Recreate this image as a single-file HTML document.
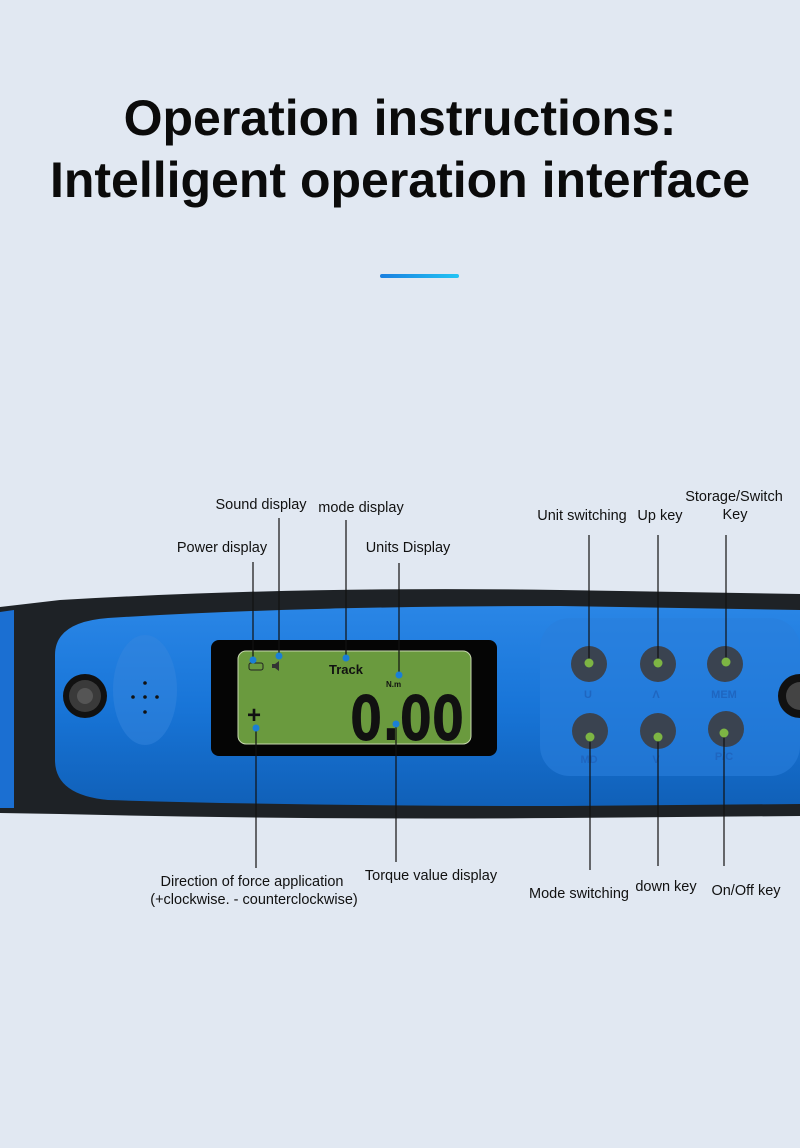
<!DOCTYPE html>
<html><head><meta charset="utf-8"><style>
html,body{margin:0;padding:0;background:#e1e8f2;}
body{width:800px;height:1148px;overflow:hidden;position:relative;font-family:"Liberation Sans",Arial,sans-serif;}
h1{position:absolute;left:0;width:800px;top:87px;margin:0;text-align:center;font-size:50px;line-height:62px;font-weight:bold;color:#0b0b0b;}
</style></head><body>
<h1>Operation instructions:<br>Intelligent operation interface</h1>
<svg width="800" height="1148" style="position:absolute;left:0;top:0">
<defs>
<linearGradient id="bar" x1="0" x2="1"><stop offset="0" stop-color="#1a7fe0"/><stop offset="1" stop-color="#22c4f4"/></linearGradient>
<linearGradient id="bl" x1="0" y1="0" x2="0" y2="1"><stop offset="0" stop-color="#2a86e6"/><stop offset="0.5" stop-color="#1875d8"/><stop offset="1" stop-color="#1060b8"/></linearGradient>
</defs>
<rect x="380" y="274" width="79" height="4" rx="2" fill="url(#bar)"/>
<!-- body -->
<path d="M0 607 L60 600 Q300 586 560 590 L800 594 L800 816 L560 818 Q300 820 60 814 L0 813 Z" fill="#1e2226"/>
<path d="M0 612 L14 610 L14 808 L0 808 Z" fill="#1b6fd2"/>
<path d="M108 618 Q300 606 560 606 L800 610 L800 804 L560 806 Q300 806 108 800 Q55 795 55 760 L55 655 Q55 622 108 618 Z" fill="url(#bl)"/>
<rect x="540" y="618" width="260" height="158" rx="30" fill="#2a7fdc" opacity="0.6"/>
<ellipse cx="145" cy="690" rx="32" ry="55" fill="#3585de" opacity="0.5"/>
<circle cx="85" cy="696" r="22" fill="#111"/><circle cx="85" cy="696" r="16" fill="#3a3a3a"/><circle cx="85" cy="696" r="8" fill="#555"/>
<circle cx="800" cy="696" r="22" fill="#111"/><circle cx="800" cy="696" r="14" fill="#444"/>
<g fill="#111"><circle cx="145" cy="683" r="1.8"/><circle cx="133" cy="697" r="1.8"/><circle cx="145" cy="697" r="1.8"/><circle cx="157" cy="697" r="1.8"/><circle cx="145" cy="712" r="1.8"/></g>
<!-- display -->
<rect x="211" y="640" width="286" height="116" rx="8" fill="#050505"/>
<rect x="238" y="651" width="233" height="93" rx="8" fill="#6a9a3e" stroke="#c8d8b0" stroke-width="1"/>
<text x="329" y="674" font-family="Liberation Sans,sans-serif" font-weight="bold" font-size="13" fill="#111">Track</text>
<text x="386" y="687" font-family="Liberation Sans,sans-serif" font-weight="bold" font-size="8" fill="#111">N.m</text>
<text x="247" y="723" font-family="Liberation Sans,sans-serif" font-weight="bold" font-size="24" fill="#111">+</text>
<text x="350" y="740" font-family="DejaVu Sans,sans-serif" font-weight="bold" font-size="62" fill="#111" textLength="114" lengthAdjust="spacingAndGlyphs">0.00</text>
<rect x="249" y="663" width="14" height="7" rx="2" fill="none" stroke="#222" stroke-width="1"/>
<path d="M272 664 h3 l4 -3 v10 l-4 -3 h-3z" fill="#333"/>
<!-- buttons -->
<g fill="#3a4350">
<circle cx="589" cy="664" r="18"/><circle cx="658" cy="664" r="18"/><circle cx="725" cy="664" r="18"/>
<circle cx="590" cy="731" r="18"/><circle cx="658" cy="731" r="18"/><circle cx="726" cy="729" r="18"/>
</g>
<g font-family="Liberation Sans,sans-serif" font-weight="bold" font-size="11" fill="#1f66c0" text-anchor="middle">
<text x="588" y="698">U</text><text x="656" y="698">Λ</text><text x="724" y="698">MEM</text>
<text x="589" y="763">MD</text><text x="656" y="763">V</text><text x="724" y="760">P/C</text>
</g>
<!-- leader lines -->
<g stroke="#111" stroke-width="1.2">
<line x1="253" y1="562" x2="253" y2="660"/><line x1="279" y1="518" x2="279" y2="656"/>
<line x1="346" y1="520" x2="346" y2="658"/><line x1="399" y1="563" x2="399" y2="675"/>
<line x1="589" y1="535" x2="589" y2="663"/><line x1="658" y1="535" x2="658" y2="663"/><line x1="726" y1="535" x2="726" y2="662"/>
<line x1="256" y1="728" x2="256" y2="868"/><line x1="396" y1="724" x2="396" y2="862"/>
<line x1="590" y1="737" x2="590" y2="870"/><line x1="658" y1="737" x2="658" y2="866"/><line x1="724" y1="733" x2="724" y2="866"/>
</g>
<g fill="#7db544">
<circle cx="589" cy="663" r="4.5"/><circle cx="658" cy="663" r="4.5"/><circle cx="726" cy="662" r="4.5"/>
<circle cx="590" cy="737" r="4.5"/><circle cx="658" cy="737" r="4.5"/><circle cx="724" cy="733" r="4.5"/>
</g>
<g fill="#1a7fd6">
<circle cx="253" cy="660" r="3.5"/><circle cx="279" cy="656" r="3.5"/><circle cx="346" cy="658" r="3.5"/>
<circle cx="399" cy="675" r="3.5"/><circle cx="256" cy="728" r="3.5"/><circle cx="396" cy="724" r="3.5"/>
</g>
<g font-family="Liberation Sans,Arial,sans-serif" font-size="14.5" fill="#111" text-anchor="middle">
<text x="261" y="509">Sound display</text><text x="361" y="512">mode display</text>
<text x="222" y="552">Power display</text><text x="408" y="552">Units Display</text>
<text x="582" y="520">Unit switching</text><text x="660" y="520">Up key</text>
<text x="734" y="501">Storage/Switch</text><text x="735" y="519">Key</text>
<text x="252" y="886">Direction of force application</text>
<text x="254" y="904">(+clockwise. - counterclockwise)</text>
<text x="431" y="880">Torque value display</text>
<text x="579" y="898">Mode switching</text><text x="666" y="891">down key</text><text x="746" y="895">On/Off key</text>
</g>
</svg>
</body></html>
